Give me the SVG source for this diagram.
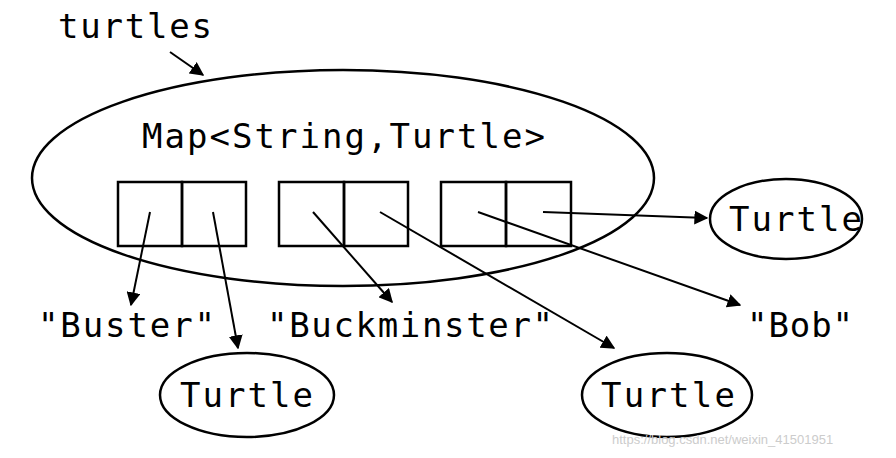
<svg xmlns="http://www.w3.org/2000/svg" width="896" height="458" viewBox="0 0 896 458">
<style>
.s{fill:none;stroke:#000;stroke-width:2.5}
.t{font-family:"DejaVu Sans Mono","Liberation Mono",monospace;font-size:34px;fill:#000}
.c{stroke:#000;stroke-width:2;fill:none;marker-end:url(#a)}
</style>
<defs><marker id="a" viewBox="0 0 10 10" refX="9" refY="5" markerWidth="7" markerHeight="7" orient="auto"><path d="M0,0 L10,5 L0,10 z" fill="#000"/></marker></defs>
<rect width="896" height="458" fill="#fff"/>
<g id="label"><text class="t" x="58" y="38" textLength="154">turtles</text></g>
<g id="map">
<ellipse class="s" cx="343" cy="178" rx="311" ry="108"/>
<text class="t" x="142" y="148" textLength="403">Map&lt;String,Turtle&gt;</text>
<rect class="s" x="118" y="182" width="64" height="64"/><rect class="s" x="182" y="182" width="64" height="64"/>
<rect class="s" x="279" y="182" width="65" height="64"/><rect class="s" x="344" y="182" width="64" height="64"/>
<rect class="s" x="441" y="182" width="65" height="64"/><rect class="s" x="506" y="182" width="65" height="64"/>
</g>
<g id="t1"><ellipse class="s" cx="786" cy="219" rx="76" ry="40"/><text class="t" x="729" y="231" textLength="133">Turtle</text></g>
<g id="t2"><ellipse class="s" cx="247" cy="395" rx="87" ry="42"/><text class="t" x="180" y="407" textLength="133">Turtle</text></g>
<g id="t3"><ellipse class="s" cx="667" cy="395" rx="85" ry="42"/><text class="t" x="601" y="407" textLength="134">Turtle</text></g>
<g id="keys">
<text class="t" x="38" y="337" textLength="177">"Buster"</text>
<text class="t" x="267" y="337" textLength="286">"Buckminster"</text>
<text class="t" x="747" y="337" textLength="106">"Bob"</text>
</g>
<g id="connectors">
<line class="c" x1="170" y1="52" x2="203" y2="75"/>
<line class="c" x1="150" y1="212" x2="131" y2="305"/>
<line class="c" x1="213" y1="212" x2="238" y2="348"/>
<line class="c" x1="313" y1="212" x2="392" y2="302"/>
<line class="c" x1="380" y1="212" x2="614" y2="348"/>
<line class="c" x1="478" y1="212" x2="740" y2="305"/>
<line class="c" x1="543" y1="212" x2="707" y2="218"/>
</g>
<text x="612" y="444" font-family="Liberation Sans,sans-serif" font-size="13" fill="#ccc">https://blog.csdn.net/weixin_41501951</text>
</svg>
